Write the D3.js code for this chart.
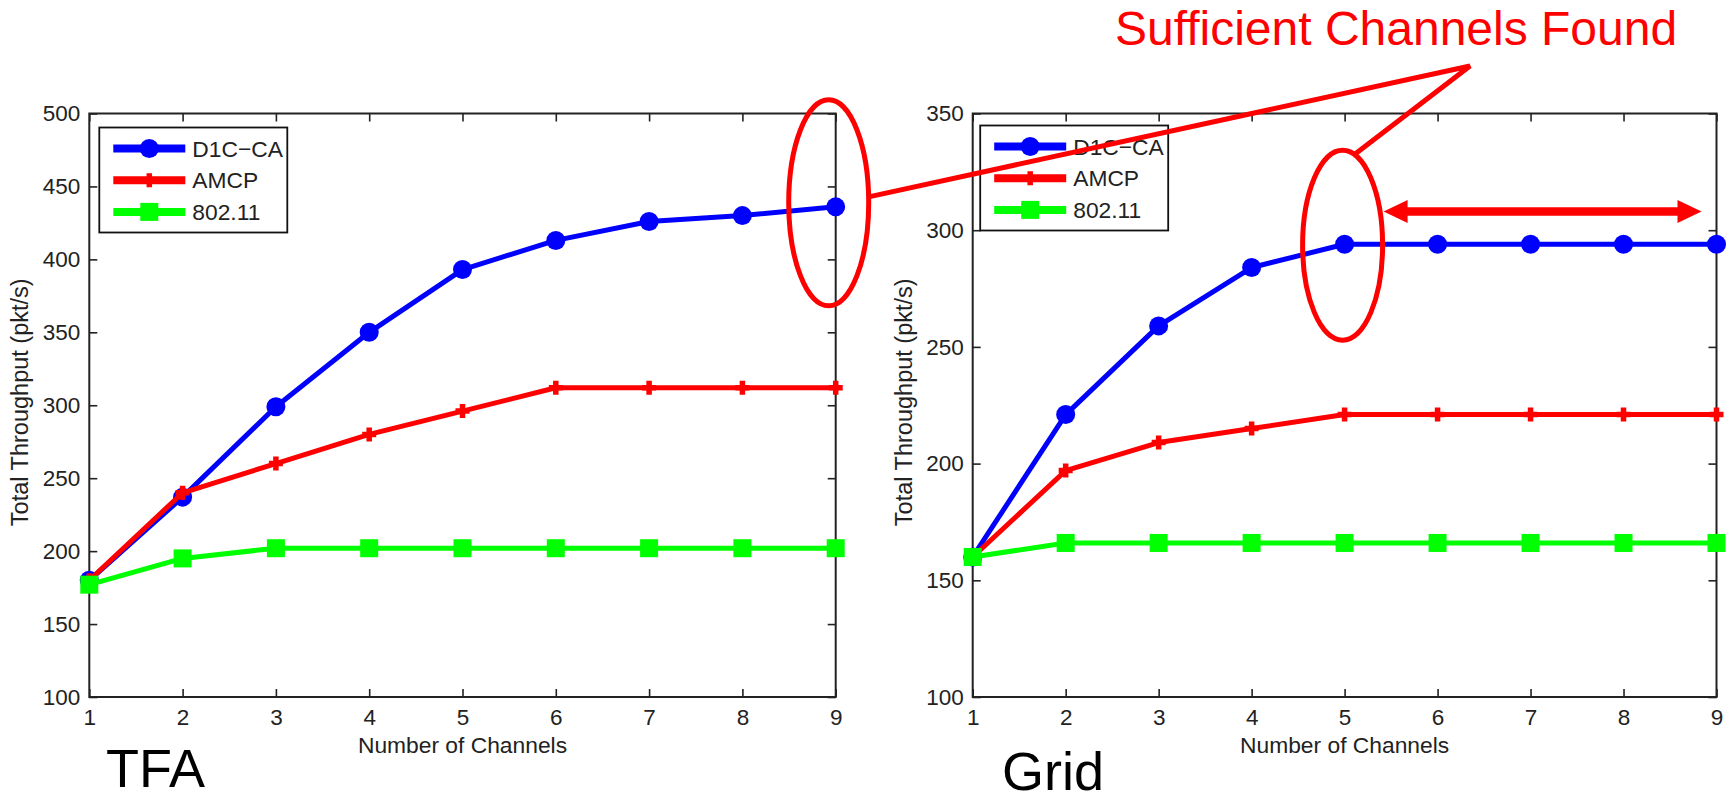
<!DOCTYPE html>
<html>
<head>
<meta charset="utf-8">
<script src="https://cdn.jsdelivr.net/npm/d3@7"></script>
<style>
  html, body { margin: 0; padding: 0; background: #fff; }
  svg { display: block; }
  text { font-family: "Liberation Sans", Arial, Helvetica, sans-serif; }
</style>
</head>
<body>
<div id="chart"></div>
<script>
// Channel counts on the x axis
const channels = [1, 2, 3, 4, 5, 6, 7, 8, 9];

// TFA topology: total throughput (pkt/s)
const tfaD1CCA = [180, 237, 299, 350, 393, 413, 426, 430, 436];
const tfaAMCP  = [180, 240, 260, 280, 296, 312, 312, 312, 312];
const tfa80211 = [177, 195, 202, 202, 202, 202, 202, 202, 202];

// Grid topology: total throughput (pkt/s)
const gridD1CCA = [160, 221, 259, 284, 294, 294, 294, 294, 294];
const gridAMCP  = [160, 197, 209, 215, 221, 221, 221, 221, 221];
const grid80211 = [160, 166, 166, 166, 166, 166, 166, 166, 166];

// Tick values
const xTicks = [1, 2, 3, 4, 5, 6, 7, 8, 9];
const tfaYTicks = [100, 150, 200, 250, 300, 350, 400, 450, 500];
const gridYTicks = [100, 150, 200, 250, 300, 350];

// Series names and text
const seriesNames = ["D1C\u2212CA", "AMCP", "802.11"];
const xLabel = "Number of Channels";
const yLabel = "Total Throughput (pkt/s)";
const panelNames = ["TFA", "Grid"];
const calloutText = "Sufficient Channels Found";

const W = 1734, H = 802;
const colors = ["#0000ff", "#ff0000", "#00ff00"];
const markers = ["circle", "plus", "square"];

const svg = d3.select("#chart").append("svg")
  .attr("width", W).attr("height", H);

function drawMarker(g, kind, color) {
  if (kind === "circle") {
    g.append("circle").attr("r", 9.5).attr("fill", color);
  } else if (kind === "square") {
    g.append("rect").attr("x", -9).attr("y", -9).attr("width", 18).attr("height", 18).attr("fill", color);
  } else {
    g.append("path").attr("d", "M-7,0H7M0,-7V7").attr("stroke", color)
      .attr("stroke-width", 5.5).attr("fill", "none");
  }
}

function drawPanel(p) {
  const x = d3.scaleLinear().domain([1, 9]).range([p.left, p.right]);
  const y = d3.scaleLinear().domain(p.yDomain).range([p.bottom, p.top]);
  const g = svg.append("g");

  // axes: inward ticks on all four sides
  const axisStyle = sel => {
    sel.select(".domain").remove();
    sel.selectAll(".tick line").attr("stroke", "#222").attr("stroke-width", 1.6);
    sel.selectAll(".tick text").attr("fill", "#222").style("font-size", "22.5px")
      .style("font-family", "'Liberation Sans', Arial, sans-serif");
  };
  g.append("g").attr("transform", `translate(0,${p.bottom})`)
    .call(d3.axisBottom(x).tickValues(xTicks).tickSizeInner(-8).tickSizeOuter(0).tickPadding(12).tickFormat(d3.format("d")))
    .call(axisStyle);
  g.append("g").attr("transform", `translate(0,${p.top})`)
    .call(d3.axisTop(x).tickValues(xTicks).tickSizeInner(-8).tickSizeOuter(0).tickFormat(""))
    .call(axisStyle);
  g.append("g").attr("transform", `translate(${p.left},0)`)
    .call(d3.axisLeft(y).tickValues(p.yTicks).tickSizeInner(-8).tickSizeOuter(0).tickPadding(9).tickFormat(d3.format("d")))
    .call(axisStyle);
  g.append("g").attr("transform", `translate(${p.right},0)`)
    .call(d3.axisRight(y).tickValues(p.yTicks).tickSizeInner(-8).tickSizeOuter(0).tickFormat(""))
    .call(axisStyle);

  g.append("rect")
    .attr("x", p.left).attr("y", p.top)
    .attr("width", p.right - p.left).attr("height", p.bottom - p.top)
    .attr("fill", "none").attr("stroke", "#222").attr("stroke-width", 2);

  // axis labels
  g.append("text")
    .attr("x", (p.left + p.right) / 2).attr("y", p.bottom + 56)
    .attr("text-anchor", "middle").attr("fill", "#222")
    .style("font-size", "22.8px").text(xLabel);
  g.append("text")
    .attr("transform", `translate(${p.left - 61},${(p.top + p.bottom) / 2 - 3}) rotate(-90)`)
    .attr("text-anchor", "middle").attr("fill", "#222")
    .style("font-size", "23.5px").text(yLabel);

  // series
  const line = d3.line().x((d, i) => x(channels[i])).y(d => y(d));
  p.series.forEach((vals, si) => {
    g.append("path").datum(vals)
      .attr("d", line).attr("fill", "none")
      .attr("stroke", colors[si]).attr("stroke-width", 5)
      .attr("stroke-linejoin", "round");
    vals.forEach((v, i) => {
      const m = g.append("g").attr("transform", `translate(${x(channels[i])},${y(v)})`);
      drawMarker(m, markers[si], colors[si]);
    });
  });

  // legend
  const lg = g.append("g").attr("transform", `translate(${p.left + p.legendDx},${p.top + p.legendDy})`);
  lg.append("rect").attr("width", 188).attr("height", 105)
    .attr("fill", "#fff").attr("stroke", "#111").attr("stroke-width", 1.8);
  seriesNames.forEach((name, si) => {
    const yy = 21 + si * 31.7;
    lg.append("line").attr("x1", 14).attr("x2", 86).attr("y1", yy).attr("y2", yy)
      .attr("stroke", colors[si]).attr("stroke-width", 8);
    const m = lg.append("g").attr("transform", `translate(50,${yy})`);
    drawMarker(m, markers[si], colors[si]);
    lg.append("text").attr("x", 93).attr("y", yy).attr("dy", "0.36em")
      .attr("fill", "#222").style("font-size", "22.8px").text(name);
  });

  return { x, y };
}

const left = drawPanel({
  left: 89.3, right: 835.7, top: 113.5, bottom: 697,
  yDomain: [100, 500], yTicks: tfaYTicks,
  series: [tfaD1CCA, tfaAMCP, tfa80211],
  legendDx: 10, legendDy: 14
});
const right = drawPanel({
  left: 972.7, right: 1716.5, top: 113.5, bottom: 697,
  yDomain: [100, 350], yTicks: gridYTicks,
  series: [gridD1CCA, gridAMCP, grid80211],
  legendDx: 7.5, legendDy: 12
});

// panel names
svg.append("text").attr("x", 106).attr("y", 787)
  .style("font-size", "54px").attr("fill", "#000").text(panelNames[0]);
svg.append("text").attr("x", 1002).attr("y", 790)
  .style("font-size", "54px").attr("fill", "#000").text(panelNames[1]);

// callout annotation
const red = "#ff0000";
const ann = svg.append("g");
ann.append("text").attr("x", 1115).attr("y", 45)
  .style("font-size", "48px").attr("fill", red).text(calloutText);

const e1 = { cx: left.x(9) - 7, cy: left.y(436) - 4, rx: 40, ry: 103 };
const e2 = { cx: right.x(5) - 2, cy: right.y(294) + 1, rx: 40, ry: 95 };
[e1, e2].forEach(e => {
  ann.append("ellipse").attr("cx", e.cx).attr("cy", e.cy).attr("rx", e.rx).attr("ry", e.ry)
    .attr("fill", "none").attr("stroke", red).attr("stroke-width", 5);
});

const apex = [1470, 66];
const t = -1.27; // angle on the second ellipse where the pointer meets it
ann.append("path")
  .attr("d", `M${e1.cx + e1.rx},${e1.cy - 6}L${apex[0]},${apex[1]}L${e2.cx + e2.rx * Math.cos(t)},${e2.cy + e2.ry * Math.sin(t)}`)
  .attr("fill", "none").attr("stroke", red).attr("stroke-width", 5).attr("stroke-linejoin", "miter");

// double-headed arrow spanning channels 5..9
const ay = right.y(308);
const ax0 = e2.cx + e2.rx + 1, ax1 = right.x(9) - 15;
const hl = 24, hh = 11.5, sw = 4.2;
ann.append("path")
  .attr("d", `M${ax0},${ay}L${ax0 + hl},${ay - hh}L${ax0 + hl},${ay - sw}L${ax1 - hl},${ay - sw}L${ax1 - hl},${ay - hh}` +
             `L${ax1},${ay}L${ax1 - hl},${ay + hh}L${ax1 - hl},${ay + sw}L${ax0 + hl},${ay + sw}L${ax0 + hl},${ay + hh}Z`)
  .attr("fill", red);
</script>
</body>
</html>
